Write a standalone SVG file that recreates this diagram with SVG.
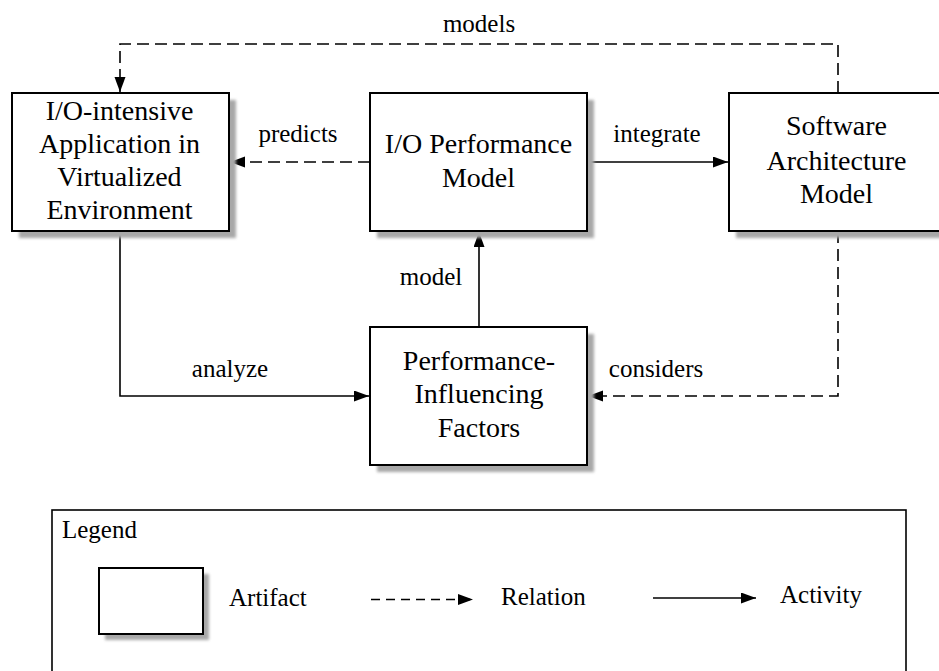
<svg xmlns="http://www.w3.org/2000/svg" width="939" height="671" viewBox="0 0 939 671">
  <defs>
    <filter id="soft" x="-10%" y="-10%" width="130%" height="130%">
      <feGaussianBlur stdDeviation="1.6"/>
    </filter>
    <marker id="head" markerUnits="userSpaceOnUse" markerWidth="16" markerHeight="12" refX="15" refY="5.5" orient="auto">
      <path d="M0,0 L15,5.5 L0,11 z" fill="#000"/>
    </marker>
  </defs>
  <style>
    .shadow { fill: #a8a8a8; filter: url(#soft); }
    .box { fill: #fff; stroke: #000; stroke-width: 2; }
    text { font-family: 'Liberation Serif', 'Times New Roman', serif; fill: #000; }
    .lbl { font-size: 25px; }
    .nodetxt { font-size: 28px; text-anchor: middle; }
    .mid { text-anchor: middle; }
    .solid { fill: none; stroke: #000; stroke-width: 1.6; }
    .dash { fill: none; stroke: #000; stroke-width: 1.6; stroke-dasharray: 12 6; }
  </style>

  <rect width="939" height="671" fill="#fff"/>

  <!-- connectors -->
  <g id="connectors">
    <path class="dash" d="M838,93 V44 H120 V92" marker-end="url(#head)"/>
    <path class="dash" d="M370,162 H230" marker-end="url(#head)"/>
    <path class="solid" d="M587,162 H728" marker-end="url(#head)"/>
    <path class="solid" d="M479,327 V232" marker-end="url(#head)"/>
    <path class="solid" d="M120,231 V396 H369" marker-end="url(#head)"/>
    <path class="dash" d="M838,231 V396 H588" marker-end="url(#head)"/>
    <text class="lbl mid" x="479" y="32">models</text>
    <text class="lbl mid" x="298" y="142">predicts</text>
    <text class="lbl mid" x="657" y="142">integrate</text>
    <text class="lbl mid" x="431" y="285">model</text>
    <text class="lbl mid" x="230" y="377">analyze</text>
    <text class="lbl mid" x="656" y="377">considers</text>
  </g>

  <!-- nodes -->
  <g id="app">
    <rect class="shadow" x="19" y="100" width="217" height="138"/>
    <rect class="box" x="12" y="93" width="217" height="138"/>
    <text class="nodetxt" x="119.5" y="120">I/O-intensive</text>
    <text class="nodetxt" x="119.5" y="153">Application in</text>
    <text class="nodetxt" x="119.5" y="186">Virtualized</text>
    <text class="nodetxt" x="119.5" y="219">Environment</text>
  </g>

  <g id="perfmodel">
    <rect class="shadow" x="377" y="100" width="217" height="138"/>
    <rect class="box" x="370" y="93" width="217" height="138"/>
    <text class="nodetxt" x="478.5" y="153">I/O Performance</text>
    <text class="nodetxt" x="478.5" y="187">Model</text>
  </g>

  <g id="swarch">
    <rect class="shadow" x="736" y="100" width="217" height="138"/>
    <rect class="box" x="729" y="93" width="217" height="138"/>
    <text class="nodetxt" x="836.5" y="135">Software</text>
    <text class="nodetxt" x="836.5" y="170">Architecture</text>
    <text class="nodetxt" x="836.5" y="203">Model</text>
  </g>

  <g id="factors">
    <rect class="shadow" x="377" y="334" width="217" height="138"/>
    <rect class="box" x="370" y="327" width="217" height="138"/>
    <text class="nodetxt" x="479" y="370">Performance-</text>
    <text class="nodetxt" x="479" y="403">Influencing</text>
    <text class="nodetxt" x="479" y="437">Factors</text>
  </g>

  <!-- legend -->
  <g id="legend">
    <rect x="52" y="510" width="854" height="175" fill="#fff" stroke="#000" stroke-width="1.6"/>
    <text class="lbl" x="62" y="538">Legend</text>
    <rect class="shadow" x="105" y="574" width="104" height="66"/>
    <rect class="box" x="99" y="568" width="104" height="66"/>
    <text class="lbl" x="229" y="606">Artifact</text>
    <path class="dash" d="M371,599.5 H473" style="stroke-dasharray: 9 6" marker-end="url(#head)"/>
    <text class="lbl" x="501" y="605">Relation</text>
    <path class="solid" d="M653,598 H756" marker-end="url(#head)"/>
    <text class="lbl" x="780" y="603">Activity</text>
  </g>
</svg>
